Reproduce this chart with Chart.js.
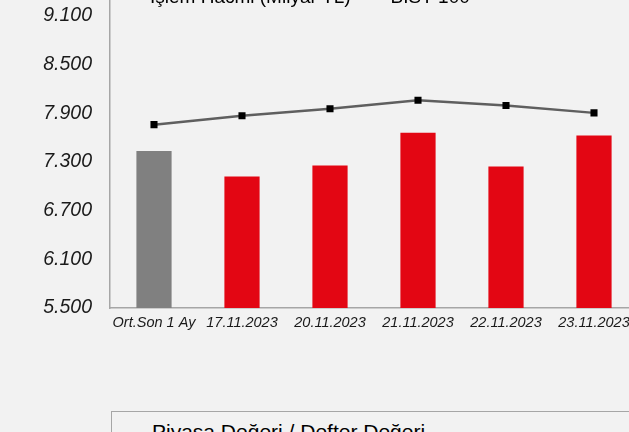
<!DOCTYPE html>
<html>
<head>
<meta charset="utf-8">
<script src="https://cdn.jsdelivr.net/npm/chart.js@4"></script>
<style>
  html, body { margin: 0; padding: 0; background: #f2f2f2; overflow: hidden; width: 629px; height: 432px; }
  #chart { position: absolute; left: 0; top: -30px; }
  .pdbox { position: absolute; left: 111px; top: 411px; width: 600px; height: 60px; border: 1px solid #a6a6a6; background: #f2f2f2; }
  .pdbox span { position: absolute; left: 40px; top: 8px; font: 21px "Liberation Sans", Arial, sans-serif; line-height: 23px; color: #000; white-space: nowrap; }
</style>
</head>
<body>
<canvas id="chart" width="660" height="462"></canvas>
<div class="pdbox"><span>Piyasa Değeri / Defter Değeri</span></div>
<script>
var categories = ["Ort.Son 1 Ay", "17.11.2023", "20.11.2023", "21.11.2023", "22.11.2023", "23.11.2023"];
var islem_hacmi = [7435, 7120, 7255, 7660, 7245, 7625];
var bist100 = [7760, 7870, 7955, 8060, 7995, 7905];
var y_min = 5500, y_max = 9300, y_step = 600;

var bar_colors = [];
for (i = 0; i < categories.length; i++) {
    bar_colors.push(i == 0 ? "#808080" : "#e30613");
}

// legend sits over the top of the plot, so let its clip box reach down a bit
var legendClip = {
    id: "legendClip",
    afterLayout: function (chart) {
        chart.legend.bottom += 15;
        chart.legend.height += 15;
    }
};

var ctx = document.getElementById("chart");
var myChart = new Chart(ctx, {
    data: {
        labels: categories,
        datasets: [{
            type: "bar",
            label: "İşlem Hacmi (Milyar TL)",
            data: islem_hacmi,
            backgroundColor: bar_colors,
            borderWidth: 0,
            categoryPercentage: 1,
            barPercentage: 0.4,
            order: 1
        }, {
            type: "line",
            label: "BIST 100",
            data: bist100,
            borderColor: "#5f5f5f",
            borderWidth: 2.5,
            pointStyle: "rect",
            pointRadius: 5,
            pointBackgroundColor: "#000",
            pointBorderColor: "#000",
            pointBorderWidth: 0,
            order: 0
        }]
    },
    plugins: [legendClip],
    options: {
        responsive: false,
        devicePixelRatio: 1,
        animation: false,
        layout: { padding: { left: 0, right: 22, top: 16, bottom: 94 } },
        plugins: {
            tooltip: { enabled: false },
            legend: {
                position: "top",
                align: "start",
                fullSize: false,
                maxHeight: 12,
                reverse: true,
                labels: {
                    padding: 1,
                    boxWidth: 29.5,
                    boxHeight: 0,
                    color: "#000",
                    font: { family: "'Liberation Sans', Arial", size: 19, lineHeight: 1 }
                }
            }
        },
        scales: {
            x: {
                grid: { display: false, drawTicks: false },
                border: { color: "#a6a6a6", width: 1.5 },
                ticks: {
                    color: "#1a1a1a",
                    padding: 6,
                    maxRotation: 0,
                    autoSkip: false,
                    font: { family: "'Liberation Sans', Arial", size: 14.5, style: "italic" }
                },
                afterFit: function (scale) { scale.height = 30; }
            },
            y: {
                min: y_min,
                max: y_max,
                grid: { display: false, drawTicks: false },
                border: { color: "#a6a6a6", width: 1.5 },
                ticks: {
                    padding: 18,
                    color: "#1a1a1a",
                    font: { family: "'Liberation Sans', Arial", size: 19.5, style: "italic" },
                    callback: function (v) { return (v / 1000).toFixed(3); }
                },
                afterBuildTicks: function (scale) {
                    var t = [];
                    for (v = y_min; v <= y_max; v += y_step) t.push({ value: v });
                    scale.ticks = t;
                },
                afterFit: function (scale) { scale.width = 110; }
            }
        }
    }
});
</script>
</body>
</html>
